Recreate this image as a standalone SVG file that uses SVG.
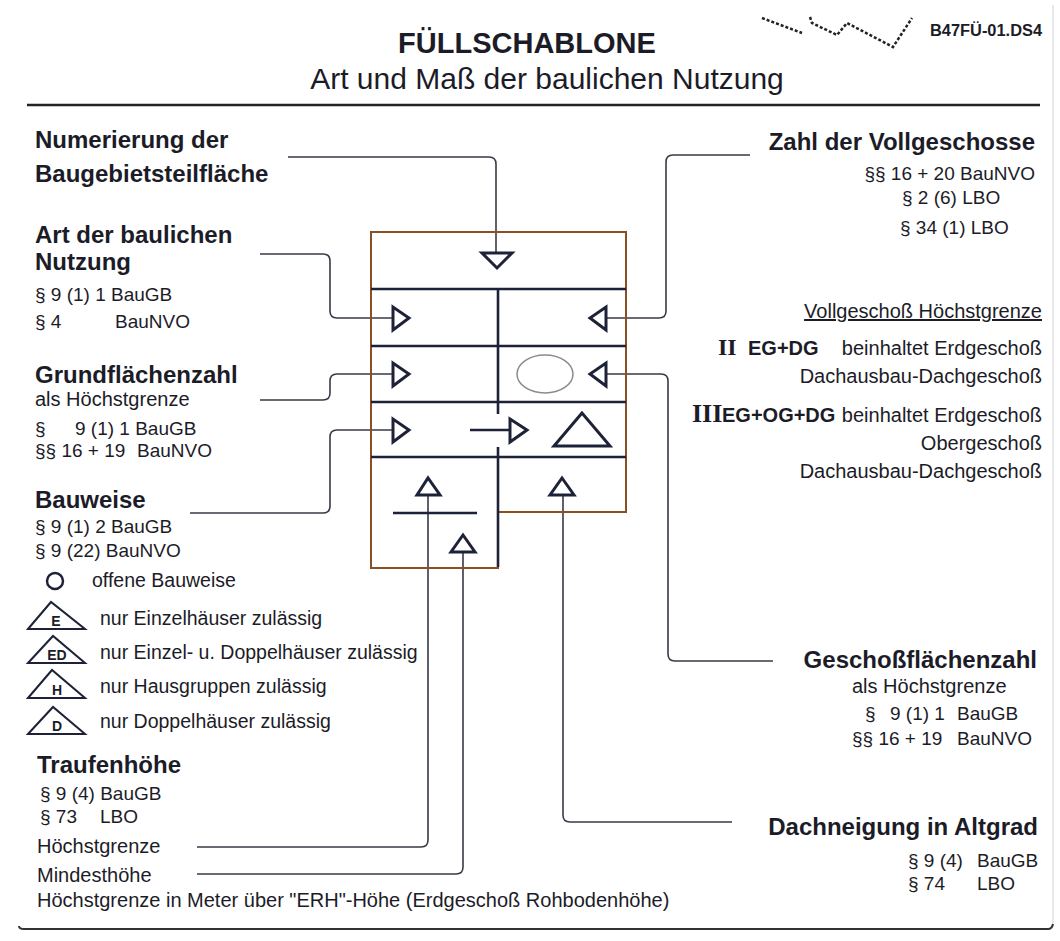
<svg xmlns="http://www.w3.org/2000/svg" width="1060" height="941" viewBox="0 0 1060 941">
<style>
text{font-family:"Liberation Sans",Arial,sans-serif;fill:#1c1c28}
.b{font-weight:bold;font-size:24px}
.r{font-size:20px}
.s{font-size:19px}
.l{font-size:19.5px}
.e{text-anchor:end}
.m{text-anchor:middle}
.sf{font-family:"Liberation Serif","Times New Roman",serif;font-weight:bold}
.conn{fill:none;stroke:#3a3a48;stroke-width:1.6}
.tri{fill:#fff;stroke:#1e2238;stroke-width:3;stroke-linejoin:miter}
.div{stroke:#1e2238;stroke-width:2.6;fill:none}
.frame{fill:none;stroke:#8a4f22;stroke-width:2}
.leg{fill:none;stroke:#1e2238;stroke-width:2}
.lt{font-weight:bold;font-size:14px;text-anchor:middle}
</style>
<rect width="1060" height="941" fill="#fff"/>

<g id="header">
<text x="527" y="53" class="m" font-weight="bold" font-size="29">FÜLLSCHABLONE</text>
<text x="547" y="89" class="m" font-size="30">Art und Maß der baulichen Nutzung</text>
<line x1="27" y1="105" x2="1040" y2="105" stroke="#222" stroke-width="2.5"/>
<path d="M762,18 L802,33 M810,17 L812,23 L837,35 L847,23 L893,47 L912,18" fill="none" stroke="#222" stroke-width="2.5" stroke-dasharray="3,2"/>
<text x="930" y="36" font-weight="bold" font-size="16" textLength="112" lengthAdjust="spacingAndGlyphs">B47FÜ-01.DS4</text>
<line x1="1053" y1="5" x2="1053" y2="924" stroke="#e2e2e6" stroke-width="1.5"/>
<path d="M19,926 Q19,929 24,929 H1048 Q1052,929 1053,924" fill="none" stroke="#333" stroke-width="2"/>
</g>

<g id="connectors">
<path class="conn" d="M288,157 H489 Q496,157 496,164 V253"/>
<path class="conn" d="M260,254 H323 Q330,254 330,261 V311 Q330,318 337,318 H393"/>
<path class="conn" d="M260,400 H323 Q330,400 330,393 V381 Q330,374 337,374 H393"/>
<path class="conn" d="M190,513 H323 Q330,513 330,506 V437 Q330,430 337,430 H393"/>
<path class="conn" d="M750,155 H673 Q666,155 666,162 V311 Q666,318 659,318 H606"/>
<path class="conn" d="M773,661 H675 Q668,661 668,654 V381 Q668,374 661,374 H606"/>
<path class="conn" d="M732,822 H570 Q563,822 563,815 V495"/>
<path class="conn" d="M197,847 H421 Q428,847 428,840 V495"/>
<path class="conn" d="M197,874 H456 Q463,874 463,867 V552"/>
</g>

<g id="template">
<polygon class="frame" points="371,232 626,232 626,512 498,512 498,568 371,568"/>
<line class="div" x1="371" y1="289" x2="626" y2="289"/>
<line class="div" x1="371" y1="346" x2="626" y2="346"/>
<line class="div" x1="371" y1="402" x2="626" y2="402"/>
<line class="div" x1="371" y1="457" x2="626" y2="457"/>
<line class="div" x1="498" y1="289" x2="498" y2="414"/>
<line class="div" x1="498" y1="447" x2="498" y2="567"/>
<line class="div" x1="470" y1="430" x2="510" y2="430"/>
<line class="div" x1="393" y1="513" x2="477" y2="513"/>
<ellipse cx="545" cy="374" rx="28" ry="19" fill="none" stroke="#8a8a90" stroke-width="1.5"/>
<polygon class="tri" points="482,253 512,253 497,268"/>
<polygon class="tri" points="393,307 393,330 409,318"/>
<polygon class="tri" points="606,307 606,330 590,318"/>
<polygon class="tri" points="393,363 393,386 409,374"/>
<polygon class="tri" points="606,363 606,386 590,374"/>
<polygon class="tri" points="393,419 393,442 409,430"/>
<polygon class="tri" points="510,419 510,442 527,430"/>
<polygon class="tri" points="582,413 554,446 610,446"/>
<polygon class="tri" points="417,495 440,495 428,478"/>
<polygon class="tri" points="451,552 475,552 463,535"/>
<polygon class="tri" points="550,495 574,495 562,478"/>
</g>

<g id="numerierung">
<text x="35" y="148" class="b">Numerierung der</text>
<text x="35" y="182" class="b">Baugebietsteilfläche</text>
</g>

<g id="art">
<text x="35" y="243" class="b">Art der baulichen</text>
<text x="35" y="270" class="b">Nutzung</text>
<text x="35" y="301" class="s">§ 9 (1) 1 BauGB</text>
<text x="35" y="328" class="s">§ 4</text>
<text x="115" y="328" class="s">BauNVO</text>
</g>

<g id="grundflaechenzahl">
<text x="35" y="383" class="b">Grundflächenzahl</text>
<text x="35" y="406" class="r">als Höchstgrenze</text>
<text x="35" y="435" class="s">§</text>
<text x="75" y="435" class="s">9 (1) 1 BauGB</text>
<text x="35" y="457" class="s">§§ 16 + 19</text>
<text x="137" y="457" class="s">BauNVO</text>
</g>

<g id="bauweise">
<text x="35" y="508" class="b">Bauweise</text>
<text x="35" y="533" class="s">§ 9 (1) 2 BauGB</text>
<text x="35" y="557" class="s">§ 9 (22) BauNVO</text>
<circle cx="55" cy="581" r="8" fill="none" stroke="#1e2238" stroke-width="2.5"/>
<text x="92" y="587" class="l">offene Bauweise</text>
<polygon class="leg" points="28,629 51,602 85,629"/>
<text x="56" y="626" class="lt">E</text>
<text x="100" y="625" class="l">nur Einzelhäuser zulässig</text>
<polygon class="leg" points="28,663 53,636 85,663"/>
<text x="57" y="660" class="lt">ED</text>
<text x="100" y="659" class="l">nur Einzel- u. Doppelhäuser zulässig</text>
<polygon class="leg" points="28,698 52,670 85,698"/>
<text x="57" y="695" class="lt">H</text>
<text x="100" y="693" class="l">nur Hausgruppen zulässig</text>
<polygon class="leg" points="28,734 53,707 85,734"/>
<text x="57" y="731" class="lt">D</text>
<text x="100" y="728" class="l">nur Doppelhäuser zulässig</text>
</g>

<g id="traufenhoehe">
<text x="37" y="773" class="b">Traufenhöhe</text>
<text x="40" y="800" class="s">§ 9 (4) BauGB</text>
<text x="40" y="823" class="s">§ 73</text>
<text x="100" y="823" class="s">LBO</text>
<text x="37" y="853" class="r">Höchstgrenze</text>
<text x="37" y="882" class="r">Mindesthöhe</text>
<text x="37" y="907" class="r">Höchstgrenze in Meter über "ERH"-Höhe (Erdgeschoß Rohbodenhöhe)</text>
</g>

<g id="vollgeschosse">
<text x="1035" y="150" class="b e">Zahl der Vollgeschosse</text>
<text x="1035" y="180" class="s e">§§ 16 + 20 BauNVO</text>
<text x="902" y="204" class="s">§ 2 (6) LBO</text>
<text x="900" y="234" class="s">§ 34 (1) LBO</text>
</g>

<g id="hoechstgrenze">
<text x="1042" y="318" class="r e" text-decoration="underline">Vollgeschoß Höchstgrenze</text>
<text x="718" y="355" class="sf" font-size="24">II</text>
<text x="748" y="355" font-weight="bold" font-size="20">EG+DG</text>
<text x="1042" y="355" class="r e">beinhaltet Erdgeschoß</text>
<text x="1042" y="383" class="r e">Dachausbau-Dachgeschoß</text>
<text x="692" y="422" class="sf" font-size="26">III</text>
<text x="722" y="422" font-weight="bold" font-size="20">EG+OG+DG</text>
<text x="1042" y="422" class="r e">beinhaltet Erdgeschoß</text>
<text x="1042" y="450" class="r e">Obergeschoß</text>
<text x="1042" y="478" class="r e">Dachausbau-Dachgeschoß</text>
</g>

<g id="geschossflaechenzahl">
<text x="1037" y="668" class="b e">Geschoßflächenzahl</text>
<text x="852" y="693" class="r">als Höchstgrenze</text>
<text x="865" y="720" class="s">§</text>
<text x="890" y="720" class="s">9 (1) 1</text>
<text x="957" y="720" class="s">BauGB</text>
<text x="852" y="745" class="s">§§ 16 + 19</text>
<text x="957" y="745" class="s">BauNVO</text>
</g>

<g id="dachneigung">
<text x="1038" y="835" class="b e">Dachneigung in Altgrad</text>
<text x="908" y="867" class="s">§ 9 (4)</text>
<text x="977" y="867" class="s">BauGB</text>
<text x="908" y="890" class="s">§ 74</text>
<text x="977" y="890" class="s">LBO</text>
</g>
</svg>
